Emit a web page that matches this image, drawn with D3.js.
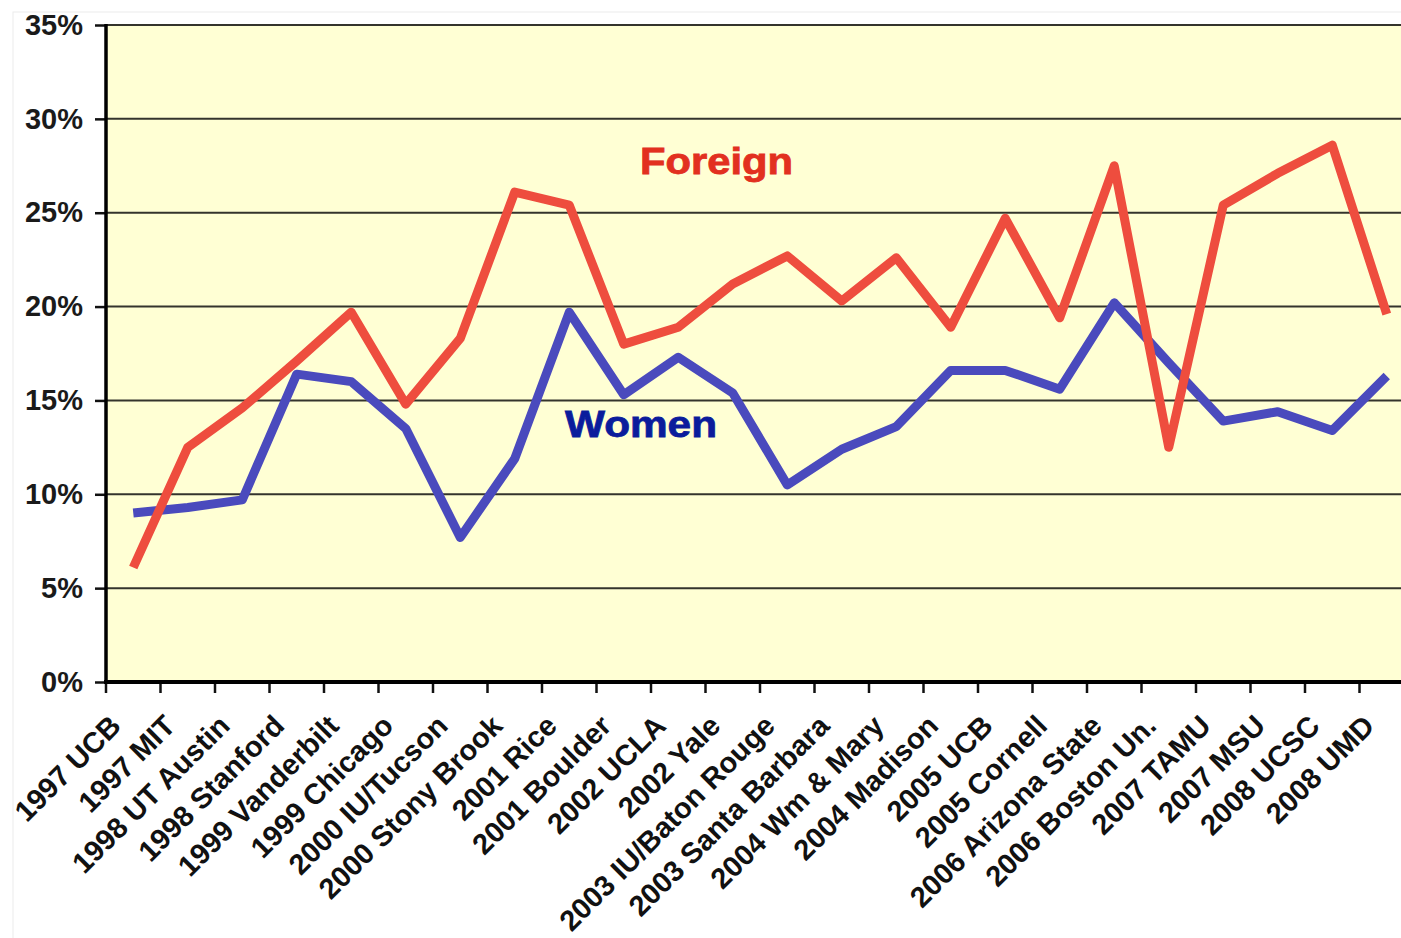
<!DOCTYPE html>
<html>
<head>
<meta charset="utf-8">
<script src="https://cdn.jsdelivr.net/npm/d3@7"></script>
<style>
  body { margin: 0; background: #fff; }
  text { font-family: "Liberation Sans", Arial, sans-serif; font-weight: bold; }
</style>
</head>
<body>
<div id="chart"></div>
<script>
// kategorie (konferencje) i wartosci w %
const categories = ["1997 UCB", "1997 MIT", "1998 UT Austin", "1998 Stanford", "1999 Vanderbilt",
  "1999 Chicago", "2000 IU/Tucson", "2000 Stony Brook", "2001 Rice", "2001 Boulder", "2002 UCLA",
  "2002 Yale", "2003 IU/Baton Rouge", "2003 Santa Barbara", "2004 Wm & Mary", "2004 Madison",
  "2005 UCB", "2005 Cornell", "2006 Arizona State", "2006 Boston Un.", "2007 TAMU", "2007 MSU",
  "2008 UCSC", "2008 UMD"];

const foreign = [6.1, 12.5, 14.6, 17.1, 19.7, 14.8, 18.3, 26.1, 25.4, 18.0, 18.9, 21.2,
  22.7, 20.3, 22.6, 18.9, 24.7, 19.4, 27.5, 12.5, 25.4, 27.1, 28.6, 19.6];

const women = [9.0, 9.3, 9.7, 16.4, 16.0, 13.5, 7.7, 11.9, 19.7, 15.3, 17.3, 15.4,
  10.5, 12.4, 13.6, 16.6, 16.6, 15.6, 20.2, 17.0, 13.9, 14.4, 13.4, 16.3];

const yTicks = [0, 5, 10, 15, 20, 25, 30, 35];

const width = 1401;
const height = 938;

const svg = d3.select("#chart")
  .append("svg")
  .attr("width", width)
  .attr("height", height);

const plotLeft = 106, plotTop = 25, plotBottom = 682, step = 54.5;

const x = d3.scaleBand()
  .domain(categories)
  .range([plotLeft, plotLeft + step * categories.length]);

const y = d3.scaleLinear()
  .domain([0, 35])
  .range([plotBottom, plotTop]);

// lekka ramka obrazka
svg.append("rect")
  .attr("x", 13).attr("y", 12)
  .attr("width", width).attr("height", height)
  .attr("fill", "none")
  .attr("stroke", "#ececec");

// tlo wykresu
svg.append("rect")
  .attr("x", plotLeft).attr("y", plotTop)
  .attr("width", width - plotLeft).attr("height", plotBottom - plotTop)
  .attr("fill", "#ffffd4");

// linie siatki
svg.append("g")
  .selectAll("line")
  .data(yTicks.filter(d => d > 0))
  .join("line")
  .attr("x1", plotLeft).attr("x2", width)
  .attr("y1", d => y(d)).attr("y2", d => y(d))
  .attr("stroke", "#34342c")
  .attr("stroke-width", 2);

// os Y
const yAxis = svg.append("g")
  .attr("transform", `translate(${plotLeft},0)`)
  .call(d3.axisLeft(y).tickValues(yTicks).tickSize(11).tickPadding(12).tickFormat(d => d + "%"));
yAxis.select(".domain").remove();
yAxis.selectAll(".tick line").attr("stroke", "#111").attr("stroke-width", 2.5);
yAxis.selectAll(".tick text")
  .attr("fill", "#1a1a1a")
  .style("font-size", "29px");

svg.append("line")
  .attr("x1", plotLeft).attr("x2", plotLeft)
  .attr("y1", plotTop - 1).attr("y2", plotBottom + 2)
  .attr("stroke", "#000").attr("stroke-width", 3.5);

// os X - kreski na granicach kategorii
svg.append("g")
  .selectAll("line")
  .data(categories)
  .join("line")
  .attr("x1", d => x(d)).attr("x2", d => x(d))
  .attr("y1", plotBottom).attr("y2", plotBottom + 11)
  .attr("stroke", "#111")
  .attr("stroke-width", 2.5);

svg.append("line")
  .attr("x1", plotLeft - 2).attr("x2", width)
  .attr("y1", plotBottom).attr("y2", plotBottom)
  .attr("stroke", "#000").attr("stroke-width", 4);

// podpisy kategorii, obrocone o 45 stopni
svg.append("g")
  .selectAll("text")
  .data(categories)
  .join("text")
  .attr("transform", d => `translate(${x(d) + 2},713) rotate(-45)`)
  .attr("text-anchor", "end")
  .attr("dy", "0.71em")
  .attr("fill", "#111")
  .style("font-size", "29px")
  .text(d => d);

// linie serii
const line = d3.line()
  .x((d, i) => x(categories[i]) + x.bandwidth() / 2)
  .y(d => y(d));

svg.append("path")
  .datum(women)
  .attr("d", line)
  .attr("fill", "none")
  .attr("stroke", "#4a4abd")
  .attr("stroke-width", 9)
  .attr("stroke-linejoin", "round");

svg.append("path")
  .datum(foreign)
  .attr("d", line)
  .attr("fill", "none")
  .attr("stroke", "#ee4d3e")
  .attr("stroke-width", 9)
  .attr("stroke-linejoin", "round");

// etykiety serii
svg.append("text")
  .attr("x", 640).attr("y", 174)
  .attr("textLength", 153)
  .attr("lengthAdjust", "spacingAndGlyphs")
  .attr("fill", "#e2301f")
  .attr("stroke", "#e2301f")
  .attr("stroke-width", 0.8)
  .style("font-size", "36px")
  .text("Foreign");

svg.append("text")
  .attr("x", 565).attr("y", 437)
  .attr("textLength", 152)
  .attr("lengthAdjust", "spacingAndGlyphs")
  .attr("fill", "#0b1c9c")
  .attr("stroke", "#0b1c9c")
  .attr("stroke-width", 0.8)
  .style("font-size", "37px")
  .text("Women");
</script>
</body>
</html>
